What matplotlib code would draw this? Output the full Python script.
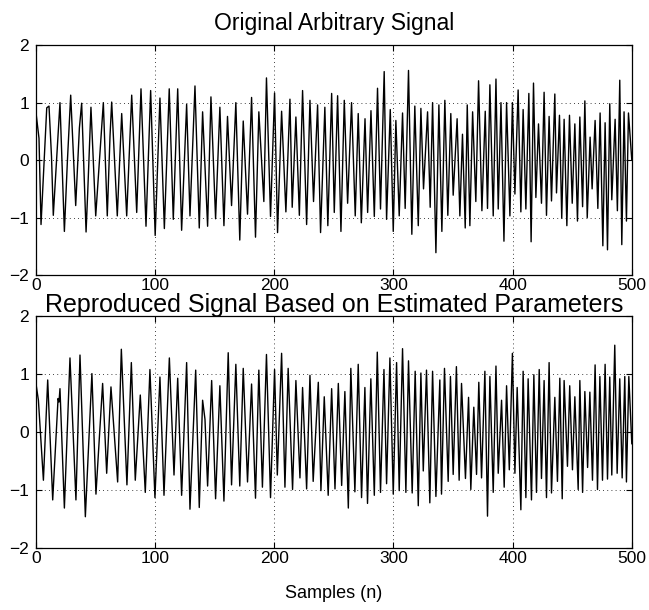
import numpy as np
import matplotlib.pyplot as plt

plt.rcParams['font.family'] = ['Liberation Sans', 'DejaVu Sans']

# extrema (sample index, amplitude), top plot
orig_n = [0, 2.5, 4.2, 9, 10.9, 13, 14.5, 20.1, 23.8, 26.3, 29.1, 33.3, 36.4, 38.3, 42, 43.4, 46.1, 50.1,
          56.5, 59.8, 62.1, 63.5, 68.2, 71.9, 76.1, 80.3, 84.5, 88.1, 92.3, 96.2,
          100, 104, 107.7, 111.8, 115.2, 118.9, 122.2, 126.4, 129.2, 133.4, 137, 139.8, 144, 146.8,
          150.7, 154.3, 157.7, 160.7, 164.1, 167.7, 171, 173.9, 177.5, 180.9, 184.2, 187, 191.2,
          193.4, 196.8, 200.2,
          202.7, 206.1, 209.7, 213.1, 215, 218.1, 221, 223.7, 227.1, 229.9, 232.9, 236.3, 238.8,
          242.4, 244.9, 248.1, 250.3, 253.1, 255.9, 258.7, 261.5, 264.8, 267.9, 270.4, 273, 276.1,
          278.3, 281.1, 283.9, 286.6, 289.1, 292.2, 294.2, 297.3,
          299.8, 302, 304.8, 307.6, 309.8, 312.6, 315.4, 317.9, 320.8, 323, 325.2, 328.6, 330.8,
          332.8, 335.6, 338.1, 340.6, 343.1, 345.6, 348.1, 350.1, 353.4, 355.7, 357.9, 360.2,
          361.9, 364.1, 366.4, 369.1, 371.4, 374.2, 377, 378.9, 380.9, 383.7, 386, 387.9, 390.2,
          392.7, 394.9, 397.7, 399.8,
          401.9, 404.6, 406.9, 408.8, 411.1, 413.6, 415.5, 417.5, 419.5, 421.7, 424.2, 426.4,
          428.4, 430.6, 432.6, 435.4, 436.8, 439.3, 441.2, 443.2, 445.5, 447.7, 450, 452.2, 454.4,
          456.4, 458.7, 460.6, 462.6, 465, 466.7, 469.2, 471.5, 473.4, 475.7, 477.6, 479.6, 481.5,
          483.2, 486, 487.9, 489.9, 491.6, 493.5, 495.5, 497.2, 500]
orig_v = [0.82, 0.38, -1.12, 0.91, 0.94, 0.06, -0.96, 1.0, -1.24, -0.03, 1.13, -0.79, 0.56, 0.99, -1.25,
          -0.55, 0.92, -0.97, 1.0, -0.97, 0.42, 1.01, -0.97, 0.81, -0.97, 1.13, -0.91, 1.24, -1.15, 1.21,
          -1.31, 1.08, -1.19, 1.24, -1.03, 1.24, -1.22, 0.97, -0.97, 1.29, -1.18, 0.84, -1.15, 1.1,
          -1.02, 0.92, -1.14, 0.76, -0.79, 1.0, -1.39, 0.68, -0.94, 1.09, -1.34, 0.84, -0.72, 1.43,
          -0.98, 1.17,
          -1.26, 0.85, -0.9, 1.06, -0.82, 0.75, -0.96, 1.21, -1.12, 1.04, -0.72, 0.96, -1.26, 0.92,
          -1.14, 1.16, -0.91, 1.12, -1.24, 1.04, -0.75, 1.0, -0.97, 0.81, -1.09, 0.72, -0.91, 0.86,
          -0.98, 1.25, -0.85, 1.54, -1.03, 0.88,
          -1.24, 0.69, -0.97, 0.82, -0.84, 1.56, -1.29, 0.94, -1.14, 0.9, -0.5, 0.84, -0.82, 1.0,
          -1.61, 0.96, -1.24, 1.04, -0.96, 0.81, -0.61, 0.72, -0.97, 0.45, -1.18, 0.96, -1.14, 0.84,
          -0.72, 1.38, -0.88, 0.85, -0.84, 1.31, -0.97, 1.41, -0.85, 1.0, -1.41, 1.0, -0.97, 1.0,
          -0.59, 1.22, -0.9, 0.88, -0.85, 1.16, -1.42, 1.34, -0.65, 0.63, -0.75, 1.18, -0.96, 0.76,
          -0.71, 1.15, -0.57, 0.78, -1.01, 0.71, -1.14, 0.78, -0.75, 0.63, -1.06, 0.75, -0.81, 1.03,
          -1.0, 0.4, -0.5, 0.69, -0.84, 0.82, -1.49, 0.65, -1.56, 0.98, -0.69, 0.71, -0.88, 1.39,
          -1.47, 0.84, -1.06, 0.82, 0.0]

# bottom plot
repro_n = [0, 2, 6.2, 9.8, 14, 16.8, 18.5, 19.3, 20.1, 23.8, 28.5, 33.5, 36.9, 41.4, 46.9, 50.3, 55.9,
           59.3, 62.9, 68.5, 71.6, 76.3, 80, 83.3, 87.5, 91.7, 95.6,
           99.8, 104, 107.4, 111.9, 115.8, 118.9, 122.2, 126.4, 129.2, 134, 137, 139.8, 141.8, 144,
           147.4, 150.7, 154.3, 157.7, 161.3, 164.1, 167.7, 171, 173.9, 177.5, 180.9, 184.2, 187,
           190, 193.4, 196.8, 200.2,
           202.5, 206.1, 208.9, 211.6, 215.3, 218.1, 221.5, 223.7, 227.1, 229.9, 232.6, 236.9, 239.1,
           241.9, 245.2, 248.1, 250.9, 253.7, 256.5, 259.2, 262.1, 264.2, 267.6, 270.4, 273.2, 276,
           278.2, 281, 283.9, 286.4, 289.1, 292, 294.2, 297,
           299.8, 302.6, 304.8, 307.6, 310.4, 312.6, 315.7, 318.2, 320.8, 323, 325, 327.7, 330.5,
           332.8, 335.6, 338.9, 340.3, 342.8, 345.9, 347.8, 350.1, 352.8, 355.1, 357.1, 360.4, 363,
           364.9, 367.4, 369.7, 371.6, 373.9, 376.7, 378.9, 380.9, 383.7, 386, 387.9, 390.7, 392.9,
           394.9, 397.2, 399.8,
           401.9, 403.8, 406.9, 408.8, 411.1, 413, 415.8, 417.8, 420, 422.3, 424.2, 426.4, 428.4,
           430.6, 432.6, 435.4, 437.6, 439.6, 441.6, 443.2, 446, 447.9, 450.2, 452.2, 455, 456.4,
           458.7, 460.6, 462.9, 464.8, 467, 469.2, 471.2, 473.2, 475.4, 477.6, 479.6, 481.5, 483.2,
           485.7, 487.7, 489.9, 491.9, 494.1, 495.5, 497.5, 500]
repro_v = [0.83, 0.55, -0.83, 0.9, -1.17, -0.08, 0.58, 0.52, 0.75, -1.31, 1.28, -1.17, 1.33, -1.46,
           1.01, -1.07, 0.84, -0.71, 0.78, -0.86, 1.43, -0.91, 1.2, -0.83, 0.64, -1.04, 1.08,
           -1.13, 0.95, -1.09, 1.28, -0.74, 0.93, -1.09, 1.2, -1.33, 1.07, -1.3, 0.55, 0.22, -0.93,
           0.89, -1.15, 0.8, -1.19, 1.37, -0.91, 1.17, -0.93, 1.1, -0.86, 0.83, -1.14, 1.07, -0.95,
           1.34, -1.13, 1.08,
           -0.74, 1.36, -0.95, 1.1, -0.99, 0.89, -0.79, 0.77, -0.98, 0.98, -0.85, 0.86, -1.01, 0.61,
           -1.09, 0.75, -0.98, 0.84, -0.92, 0.7, -1.31, 1.1, -1.03, 1.17, -1.13, 0.77, -1.23, 0.92,
           -1.09, 1.38, -1.04, 1.08, -0.89, 1.28,
           -1.07, 1.2, -1.01, 1.44, -1.04, 1.23, -1.05, 1.05, -1.27, 1.02, -0.67, 1.07, -1.22, 1.05,
           -1.11, 0.9, -1.07, 1.1, -0.85, 0.96, -0.73, 1.13, -0.83, 0.84, -0.8, 0.6, -0.99, 0.43,
           -0.73, 0.86, -0.79, 1.05, -1.45, 0.96, -1.04, 1.14, -0.71, 0.55, -0.95, 0.8, -0.65, 1.36,
           -0.71, 0.77, -1.34, 1.05, -1.13, 0.92, -1.17, 0.99, -1.04, 1.08, -0.8, 0.89, -1.13, 1.2,
           -1.05, 0.6, -0.85, 0.93, -1.15, 0.89, -0.59, 0.8, -0.65, 0.61, -0.99, 0.89, -1.04, 0.7,
           -0.61, 0.69, -0.83, 1.16, -0.99, 0.96, -0.83, 1.17, -0.81, 0.95, -0.74, 1.5, -0.71, 0.92,
           -0.79, 0.96, -0.86, 0.96, -0.2]

titles = ['Original Arbitrary Signal', 'Reproduced Signal Based on Estimated Parameters']
title_sizes = [16.5, 18]
title_pads = [11, 3]

fig = plt.figure(figsize=(6.49, 6.10), dpi=100)
ax1 = fig.add_axes([0.0555, 0.549, 0.918, 0.377])
ax2 = fig.add_axes([0.0555, 0.1016, 0.918, 0.380])

for ax, n, v, t, fs, tp in zip([ax1, ax2], [orig_n, repro_n], [orig_v, repro_v], titles,
                               title_sizes, title_pads):
    ax.plot(n, v, color='k', lw=1.0)
    ax.set_xlim(0, 500)
    ax.set_ylim(-2, 2)
    ax.set_xticks(np.arange(0, 501, 100))
    ax.set_yticks(np.arange(-2, 3, 1))
    ax.grid(True, color='k', linestyle=(0, (1, 4)), linewidth=0.6)
    ax.tick_params(direction='in', top=True, right=True, length=4, width=0.8,
                   labelsize=12.5)
    ax.tick_params(axis='x', pad=2)
    ax.tick_params(axis='y', pad=5)
    for s in ax.spines.values():
        s.set_linewidth(0.9)
    ax.set_title(t, fontsize=fs, pad=tp)

ax2.set_xlabel('Samples (n)', fontsize=13, labelpad=14)

fig.savefig('out.png', dpi=100)
